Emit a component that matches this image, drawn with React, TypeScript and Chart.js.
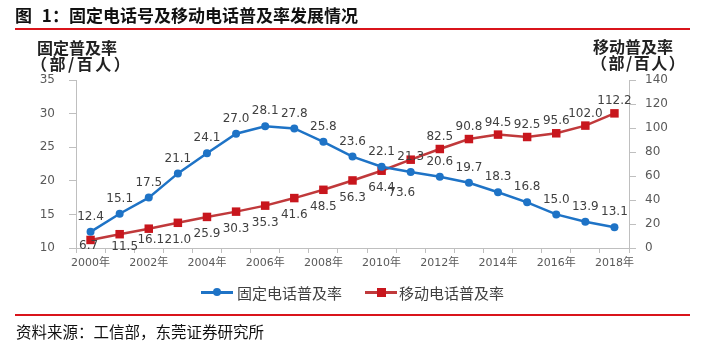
import React, { useEffect, useRef } from "react";
import { Chart, registerables } from "chart.js";

Chart.register(...registerables);

const years = ["2000年","2001年","2002年","2003年","2004年","2005年","2006年","2007年","2008年","2009年","2010年","2011年","2012年","2013年","2014年","2015年","2016年","2017年","2018年"];
const fixedRate = [12.4, 15.1, 17.5, 21.1, 24.1, 27.0, 28.1, 27.8, 25.8, 23.6, 22.1, 21.3, 20.6, 19.7, 18.3, 16.8, 15.0, 13.9, 13.1];
const mobileRate = [6.7, 11.5, 16.1, 21.0, 25.9, 30.3, 35.3, 41.6, 48.5, 56.3, 64.4, 73.6, 82.5, 90.8, 94.5, 92.5, 95.6, 102.0, 112.2];
const leftTicks = [10, 15, 20, 25, 30, 35];
const rightTicks = [0, 20, 40, 60, 80, 100, 120, 140];
const fixedName = "固定电话普及率";
const mobileName = "移动电话普及率";

const BLUE = "#1E73C6";
const RED = "#C8161D";
const RED_LINE = "#C0393B";
const AXIS = "#BFBFBF";
const CJK = '"Noto Sans CJK SC", "DejaVu Sans", sans-serif';

const labelPlugin = {
  id: "valueLabels",
  afterDatasetsDraw(chart: any) {
    const ctx = chart.ctx;
    ctx.save();
    ctx.font = '12px "DejaVu Sans", sans-serif';
    ctx.fillStyle = "#404040";
    ctx.textAlign = "center";
    ctx.textBaseline = "middle";
    chart.data.datasets.forEach((ds: any, di: number) => {
      const meta = chart.getDatasetMeta(di);
      meta.data.forEach((pt: any, i: number) => {
        const v = ds.data[i];
        const txt = v.toFixed(1);
        let x = pt.x;
        let y = pt.y;
        if (di === 0) {
          y -= 15;
        } else {
          if (i <= 11) {
            if (i === 11) { y += 33; x -= 9; }
            else if (i === 0) { y += 6; x -= 2; }
            else if (i === 1) { y += 13; x += 5; }
            else if (i === 2) { y += 11; x += 2; }
            else { y += 17; }
          } else {
            y -= 12;
          }
        }
        ctx.fillText(txt, x, y);
      });
    });
    ctx.restore();
  },
};

export default function App() {
  const ref = useRef<HTMLCanvasElement | null>(null);
  useEffect(() => {
    if (!ref.current) return;
    const chart = new Chart(ref.current, {
      type: "line",
      data: {
        labels: years,
        datasets: [
          {
            label: fixedName,
            data: fixedRate,
            yAxisID: "y",
            borderColor: BLUE,
            backgroundColor: BLUE,
            borderWidth: 2.5,
            pointStyle: "circle",
            pointRadius: 4,
            pointBorderWidth: 0,
            tension: 0,
          },
          {
            label: mobileName,
            data: mobileRate,
            yAxisID: "y1",
            borderColor: RED_LINE,
            backgroundColor: RED,
            borderWidth: 2.5,
            pointStyle: "rect",
            pointRadius: 6,
            pointBorderWidth: 0,
            tension: 0,
          },
        ],
      },
      options: {
        animation: false,
        responsive: false,
        maintainAspectRatio: false,
        layout: { padding: { top: 80, left: 0, right: 0, bottom: 0 } },
        plugins: { legend: { display: false }, tooltip: { enabled: false }, title: { display: false } },
        scales: {
          x: {
            type: "category",
            offset: true,
            grid: { offset: true, drawOnChartArea: false, drawTicks: true, tickLength: 5, color: AXIS },
            border: { color: AXIS, width: 1 },
            ticks: {
              autoSkip: false,
              maxRotation: 0,
              minRotation: 0,
              padding: 4,
              color: "#595959",
              font: { size: 11, family: '"DejaVu Sans", "Noto Sans CJK SC", sans-serif' },
              callback: (_v: any, i: number) => (i % 2 === 0 ? years[i] : ""),
            },
            afterFit: (s: any) => { s.height = 112; },
          },
          y: {
            position: "left",
            min: leftTicks[0],
            max: leftTicks[leftTicks.length - 1],
            afterBuildTicks: (s: any) => { s.ticks = leftTicks.map((v) => ({ value: v })); },
            grid: { drawOnChartArea: false, drawTicks: true, tickLength: 7, color: AXIS },
            border: { color: AXIS, width: 1 },
            ticks: { padding: 14, color: "#595959", font: { size: 12, family: '"DejaVu Sans", sans-serif' } },
            afterFit: (s: any) => { s.width = 76; },
          },
          y1: {
            position: "right",
            min: rightTicks[0],
            max: rightTicks[rightTicks.length - 1],
            afterBuildTicks: (s: any) => { s.ticks = rightTicks.map((v) => ({ value: v })); },
            grid: { drawOnChartArea: false, drawTicks: true, tickLength: 7, color: AXIS },
            border: { color: AXIS, width: 1 },
            ticks: { padding: 9, color: "#595959", font: { size: 12, family: '"DejaVu Sans", sans-serif' } },
            afterFit: (s: any) => { s.width = 99; },
          },
        },
      },
      plugins: [labelPlugin],
    });
    return () => chart.destroy();
  }, []);

  const abs = (o: any) => ({ position: "absolute" as const, whiteSpace: "nowrap" as const, ...o });

  return (
    <div style={{ position: "fixed", left: 0, top: 0, width: 728, height: 360, background: "#fff", overflow: "hidden", fontFamily: CJK }}>
      <canvas ref={ref} width={728} height={360} style={{ position: "absolute", left: 0, top: 0, width: 728, height: 360 }} />
      <div style={abs({ left: 15, top: 3, fontSize: 17, fontWeight: 700, color: "#111", lineHeight: "24px" })}>图<span style={{ marginLeft: 6 }}> 1：</span>固定电话号及移动电话普及率发展情况</div>
      <div style={abs({ left: 15, top: 28, width: 675, height: 2, background: "#D9141B" })} />
      <div style={abs({ left: 37, top: 37, fontSize: 16, fontWeight: 700, color: "#222", lineHeight: "20px" })}>固定普及率</div>
      <div style={abs({ left: 31, top: 53, fontSize: 16, fontWeight: 700, color: "#222", lineHeight: "20px", letterSpacing: 2.5 })}>（部/百人）</div>
      <div style={abs({ left: 593, top: 36, fontSize: 16, fontWeight: 700, color: "#222", lineHeight: "20px" })}>移动普及率</div>
      <div style={abs({ left: 591, top: 52, fontSize: 16, fontWeight: 700, color: "#222", lineHeight: "20px", letterSpacing: 1.5 })}>（部/百人）</div>
      <div style={abs({ left: 201, top: 282, height: 20, display: "flex", alignItems: "center", fontSize: 15, color: "#404040" })}>
        <span style={{ position: "relative", display: "inline-block", width: 32, height: 20, marginRight: 4 }}>
          <span style={{ position: "absolute", left: 0, top: 9, width: 32, height: 2.5, background: BLUE }} />
          <span style={{ position: "absolute", left: 12, top: 6, width: 8, height: 8, borderRadius: 4, background: BLUE }} />
        </span>
        <span>{fixedName}</span>
        <span style={{ position: "relative", display: "inline-block", width: 32, height: 20, marginLeft: 23, marginRight: 2 }}>
          <span style={{ position: "absolute", left: 0, top: 9, width: 32, height: 2.5, background: RED_LINE }} />
          <span style={{ position: "absolute", left: 12, top: 5.5, width: 9, height: 9, background: RED }} />
        </span>
        <span>{mobileName}</span>
      </div>
      <div style={abs({ left: 15, top: 314, width: 675, height: 2, background: "#D9141B" })} />
      <div style={abs({ left: 16, top: 320, fontSize: 15.5, color: "#111", lineHeight: "22px" })}>资料来源：工信部，东莞证券研究所</div>
    </div>
  );
}
